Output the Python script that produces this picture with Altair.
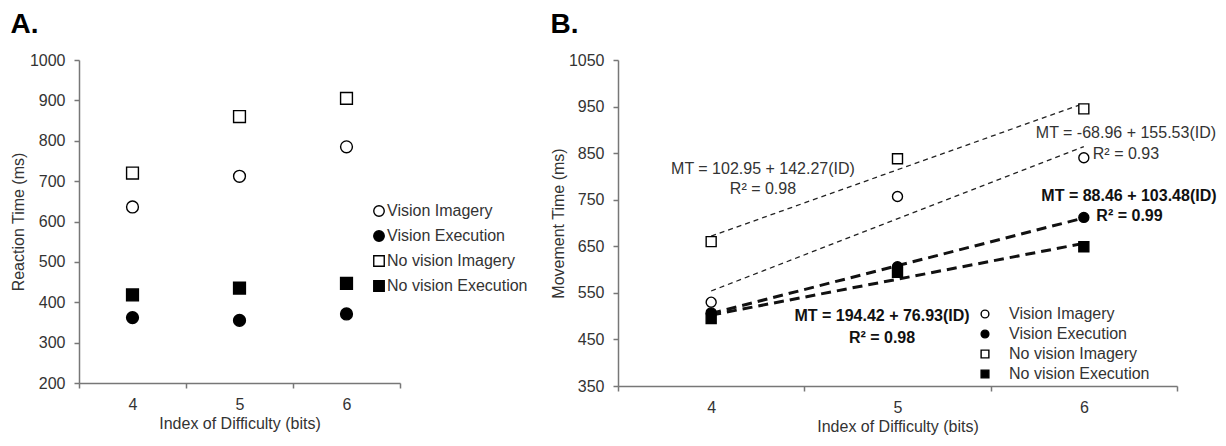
import altair as alt
import pandas as pd

FONT = "Liberation Sans"

groups = ["Vision Imagery", "Vision Execution", "No vision Imagery", "No vision Execution"]
difficulty = [4, 5, 6]

# Panel A: reaction time (ms)
rt_vision_imagery = [636, 712, 785]
rt_vision_execution = [362, 355, 371]
rt_novision_imagery = [720, 860, 905]
rt_novision_execution = [418, 435, 447]

# Panel B: movement time (ms)
mt_vision_imagery = [530, 757, 840]
mt_vision_execution = [507, 606, 712]
mt_novision_imagery = [660, 838, 945]
mt_novision_execution = [495, 594, 649]

# Panel B regression annotations (text, placed in data coordinates)
ann_text = [
    "MT = 102.95 + 142.27(ID)", "R\u00b2 = 0.98",
    "MT = -68.96 + 155.53(ID)", "R\u00b2 = 0.93",
    "MT = 88.46 + 103.48(ID)", "R\u00b2 = 0.99",
    "MT = 194.42 + 76.93(ID)", "R\u00b2 = 0.98",
]
ann_bold = [False, False, False, False, True, True, True, True]
ann_x = [4.278, 4.278, 6.226, 6.226, 6.242, 6.245, 4.917, 4.917]
ann_y = [815, 772, 894, 849, 757, 714, 500, 453]


def long_table(series, col):
    rows = []
    for g, vals in zip(groups, series):
        for d, v in zip(difficulty, vals):
            rows.append({"group": g, "id": d, col: v})
    return pd.DataFrame(rows)


dfA = long_table([rt_vision_imagery, rt_vision_execution,
                  rt_novision_imagery, rt_novision_execution], "ms")
dfB = long_table([mt_vision_imagery, mt_vision_execution,
                  mt_novision_imagery, mt_novision_execution], "ms")
dfAnn = pd.DataFrame({"text": ann_text, "bold": ann_bold, "id": ann_x, "ms": ann_y})

shape_scale = alt.Scale(domain=groups, range=["circle", "circle", "square", "square"])
fill_scale = alt.Scale(domain=groups, range=["white", "black", "white", "black"])
stroke_scale = alt.Scale(domain=groups, range=["black", "black", "black", "black"])

X_AXIS = alt.Axis(labelAngle=0, tickBand="extent", labelPadding=8, titlePadding=3)
x_band = alt.X(
    "id:O",
    scale=alt.Scale(type="band", domain=difficulty, paddingInner=0, paddingOuter=0),
    axis=X_AXIS,
    title="Index of Difficulty (bits)",
)
# continuous twin of the band scale, used only to place the text annotations
x_cont = alt.X("id:Q", scale=alt.Scale(domain=[3.5, 6.5], nice=False, zero=False), axis=None)


def y_enc(lo, hi, title, title_pad):
    return alt.Y(
        "ms:Q",
        scale=alt.Scale(domain=[lo, hi], nice=False, zero=False),
        axis=alt.Axis(values=list(range(lo, hi + 1, 100)), format="d",
                      labelPadding=9, titlePadding=title_pad),
        title=title,
    )


def legend(x, y, size, row_pad, label_off):
    return alt.Legend(
        title=None, orient="none", legendX=x, legendY=y,
        symbolSize=size, symbolStrokeWidth=1.4,
        labelFont=FONT, labelFontSize=16, labelColor="#333",
        rowPadding=row_pad, labelOffset=label_off,
    )


def points(df, ye, size, leg):
    return alt.Chart(df).mark_point(
        filled=True, strokeWidth=1.4, size=size, opacity=1
    ).encode(
        x=x_band, y=ye,
        shape=alt.Shape("group:N", scale=shape_scale, legend=leg),
        fill=alt.Fill("group:N", scale=fill_scale, legend=leg),
        stroke=alt.Stroke("group:N", scale=stroke_scale, legend=leg),
    )


title_kw = dict(anchor="start", fontSize=28, fontWeight="bold", font=FONT,
                color="black", offset=13)

# ---------- Panel A ----------
yA = y_enc(200, 1000, "Reaction Time (ms)", 3)
legA = legend(292, 143, 110, 7, 0)
panelA = points(dfA, yA, 140, legA).properties(
    width=321, height=323, title=alt.TitleParams("A.", **title_kw),
)

# ---------- Panel B ----------
yB = y_enc(350, 1050, "Movement Time (ms)", 2)
legB = legend(359, 246, 60, 4, 16)

reg = alt.Chart(dfB).transform_regression("id", "ms", groupby=["group"])
thin_lines = reg.transform_filter(
    alt.FieldOneOfPredicate(field="group", oneOf=["Vision Imagery", "No vision Imagery"])
).mark_line(color="#222", strokeWidth=1.3, strokeDash=[5, 4]).encode(
    x=x_band, y=yB, detail="group:N")
bold_lines = reg.transform_filter(
    alt.FieldOneOfPredicate(field="group", oneOf=["Vision Execution", "No vision Execution"])
).mark_line(color="#111", strokeWidth=3, strokeDash=[10, 6]).encode(
    x=x_band, y=yB, detail="group:N")

ptsB = points(dfB, yB, 100, legB)

ann_normal = alt.Chart(dfAnn).transform_filter("!datum.bold").mark_text(
    font=FONT, fontSize=16, color="#333", align="center", baseline="middle"
).encode(x=x_cont, y=yB, text="text:N")
ann_boldm = alt.Chart(dfAnn).transform_filter("datum.bold").mark_text(
    font=FONT, fontSize=16, fontWeight="bold", color="#111", align="center", baseline="middle"
).encode(x=x_cont, y=yB, text="text:N")

lines_pts = alt.layer(thin_lines, bold_lines, ptsB)
panelB = alt.layer(lines_pts, ann_normal, ann_boldm).resolve_scale(x="independent").properties(
    width=559, height=326, title=alt.TitleParams("B.", **title_kw),
)

chart = alt.hconcat(panelA, panelB, spacing=22).resolve_scale(
    x="independent", y="independent", shape="independent", fill="independent",
    stroke="independent"
).resolve_legend(shape="independent", fill="independent", stroke="independent").properties(
    padding={"left": 2, "top": 3, "right": 0, "bottom": 1}
).configure_view(strokeWidth=0).configure_axis(
    grid=False, domainColor="#777", domainWidth=1.5, tickColor="#777", tickWidth=1.5,
    tickSize=5, labelFont=FONT, labelFontSize=16, labelColor="#333",
    titleFont=FONT, titleFontSize=16, titleFontWeight="normal", titleColor="#333",
)

chart.save("out.html", embed_options={"renderer": "svg", "actions": False})
